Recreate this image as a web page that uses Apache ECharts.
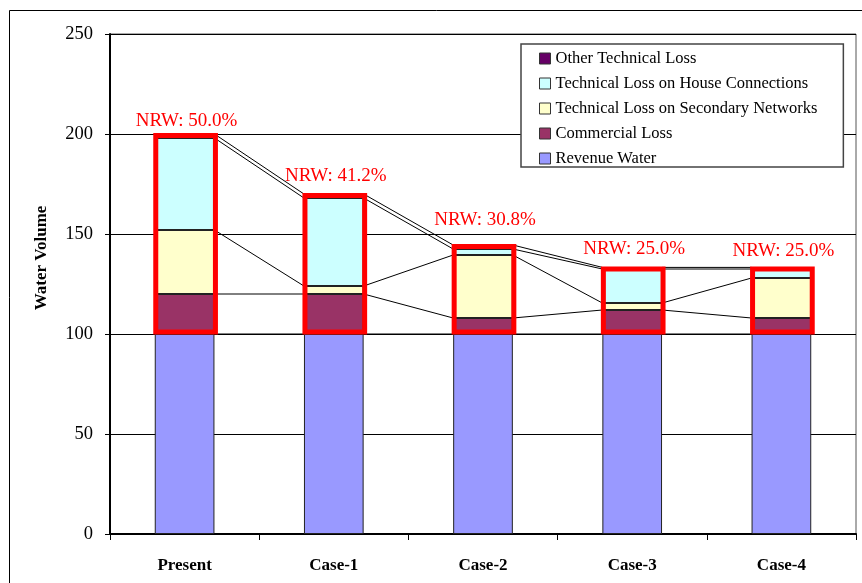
<!DOCTYPE html>
<html>
<head>
<meta charset="utf-8">
<script src="https://cdn.jsdelivr.net/npm/echarts@6/dist/echarts.min.js"></script>
<style>
  html, body { margin: 0; padding: 0; background: #fff; }
  #chart { width: 862px; height: 583px; }
</style>
</head>
<body>
<div id="chart"></div>
<script>
// Water balance per scenario (volume units)
const categories = ['Present', 'Case-1', 'Case-2', 'Case-3', 'Case-4'];
const revenueWater = [100, 100, 100, 100, 100];
const commercialLoss = [20, 20, 8, 12, 8];
const secondaryNetworkLoss = [32, 4, 31.5, 3.5, 20];
const houseConnectionLoss = [46, 44, 3, 17, 4.5];
const otherTechnicalLoss = [2, 2, 2, 0.8, 0.8];

const yMin = 0, yMax = 250, yStep = 50;

const SERIF = "'Liberation Serif', 'Times New Roman', serif";

// Stack order from bottom to top
const stackDefs = [
  { name: 'Revenue Water', data: revenueWater, color: '#9999FF' },
  { name: 'Commercial Loss', data: commercialLoss, color: '#993366' },
  { name: 'Technical Loss on Secondary Networks', data: secondaryNetworkLoss, color: '#FFFFCC' },
  { name: 'Technical Loss on House Connections', data: houseConnectionLoss, color: '#CCFFFF' },
  { name: 'Other Technical Loss', data: otherTechnicalLoss, color: '#660066' }
];

// Cumulative tops of each stack level
const cumulative = [];
stackDefs.forEach((d, s) => {
  cumulative.push(d.data.map((v, i) => v + (s > 0 ? cumulative[s - 1][i] : 0)));
});
const totals = cumulative[cumulative.length - 1];
const losses = totals.map((t, i) => t - revenueWater[i]);
const nrwText = losses.map((l, i) => 'NRW: ' + (l / totals[i] * 100).toFixed(1) + '%');

// Connector lines between neighbouring bars, one per stack level
const connectorData = [];
cumulative.forEach(levels => {
  for (let i = 0; i < categories.length - 1; i++) {
    connectorData.push([i, levels[i], levels[i + 1]]);
  }
});

const BAR_RATIO = 0.4;
// pixel lift of each NRW caption above its frame
const captionLift = [3, 8, 15, 9, 7];

const barSeries = stackDefs.map(d => ({
  name: d.name,
  type: 'bar',
  stack: 'volume',
  barWidth: (BAR_RATIO * 100) + '%',
  data: d.data,
  itemStyle: { color: d.color, borderColor: '#222', borderWidth: 1 },
  emphasis: { disabled: true },
  z: 2
}));

const option = {
  animation: false,
  backgroundColor: '#fff',
  grid: {
    left: 110, right: 6, top: 34, bottom: 49,
    show: true, borderColor: '#555', borderWidth: 1, backgroundColor: 'transparent'
  },
  legend: {
    orient: 'vertical',
    left: 521, top: 44,
    padding: [6, 26, 0, 18],
    itemGap: 8,
    itemWidth: 11, itemHeight: 11,
    itemStyle: { borderColor: '#333', borderWidth: 1 },
    icon: 'rect',
    backgroundColor: '#fff',
    borderColor: '#444', borderWidth: 1.5,
    textStyle: { fontFamily: SERIF, fontSize: 16.5, color: '#000', lineHeight: 16 },
    data: [
      'Other Technical Loss',
      'Technical Loss on House Connections',
      'Technical Loss on Secondary Networks',
      'Commercial Loss',
      'Revenue Water'
    ],
    selectedMode: false
  },
  xAxis: {
    type: 'category',
    data: categories,
    axisLine: { lineStyle: { color: '#000', width: 2 } },
    axisTick: { show: true, length: 6, lineStyle: { color: '#000' } },
    axisLabel: {
      margin: 23, fontFamily: SERIF, fontSize: 17, fontWeight: 'bold', color: '#000'
    }
  },
  yAxis: {
    type: 'value',
    min: yMin, max: yMax, interval: yStep,
    axisLine: { show: true, lineStyle: { color: '#000', width: 2 } },
    axisTick: { show: true, length: 5, lineStyle: { color: '#000' } },
    axisLabel: { margin: 17, fontFamily: SERIF, fontSize: 18.5, color: '#000' },
    splitLine: { lineStyle: { color: '#000', width: 1 } }
  },
  graphic: [
    {
      type: 'rect', silent: true, z: -1,
      shape: { x: 9.5, y: 10.5, width: 900, height: 600 },
      style: { fill: 'transparent', stroke: '#000', lineWidth: 1 }
    },
    {
      type: 'text', silent: true,
      x: 42, y: 258, rotation: Math.PI / 2,
      style: {
        text: 'Water Volume', fontFamily: SERIF, fontSize: 17, fontWeight: 'bold',
        fill: '#000', align: 'center', verticalAlign: 'middle'
      }
    }
  ],
  series: barSeries.concat([
    {
      type: 'custom',
      name: 'connectors',
      silent: true,
      z: 1,
      data: connectorData,
      renderItem: (params, api) => {
        const i = api.value(0);
        const half = api.size([1, 0])[0] * BAR_RATIO / 2;
        const p0 = api.coord([i, api.value(1)]);
        const p1 = api.coord([i + 1, api.value(2)]);
        return {
          type: 'line',
          shape: { x1: p0[0] + half, y1: p0[1], x2: p1[0] - half, y2: p1[1] },
          style: { stroke: '#000', lineWidth: 1 }
        };
      }
    },
    {
      type: 'custom',
      name: 'nrwFrames',
      silent: true,
      z: 5,
      data: categories.map((c, i) => [i, totals[i], revenueWater[i]]),
      renderItem: (params, api) => {
        const i = api.value(0);
        const w = api.size([1, 0])[0] * BAR_RATIO;
        const top = api.coord([i, api.value(1)]);
        const base = api.coord([i, api.value(2)]);
        return {
          type: 'group',
          children: [
            {
              type: 'rect',
              shape: { x: top[0] - w / 2 + 1, y: top[1] + 1.5, width: w, height: base[1] - top[1] - 3.5 },
              style: { fill: 'transparent', stroke: '#FF0000', lineWidth: 5 }
            },
            {
              type: 'text',
              x: top[0] + 2, y: top[1] - captionLift[i],
              style: {
                text: nrwText[i], fontFamily: SERIF, fontSize: 19, fill: '#FF0000',
                align: 'center', verticalAlign: 'bottom'
              }
            }
          ]
        };
      }
    }
  ])
};

const chart = echarts.init(document.getElementById('chart'), null, { renderer: 'canvas' });
chart.setOption(option);
</script>
</body>
</html>
